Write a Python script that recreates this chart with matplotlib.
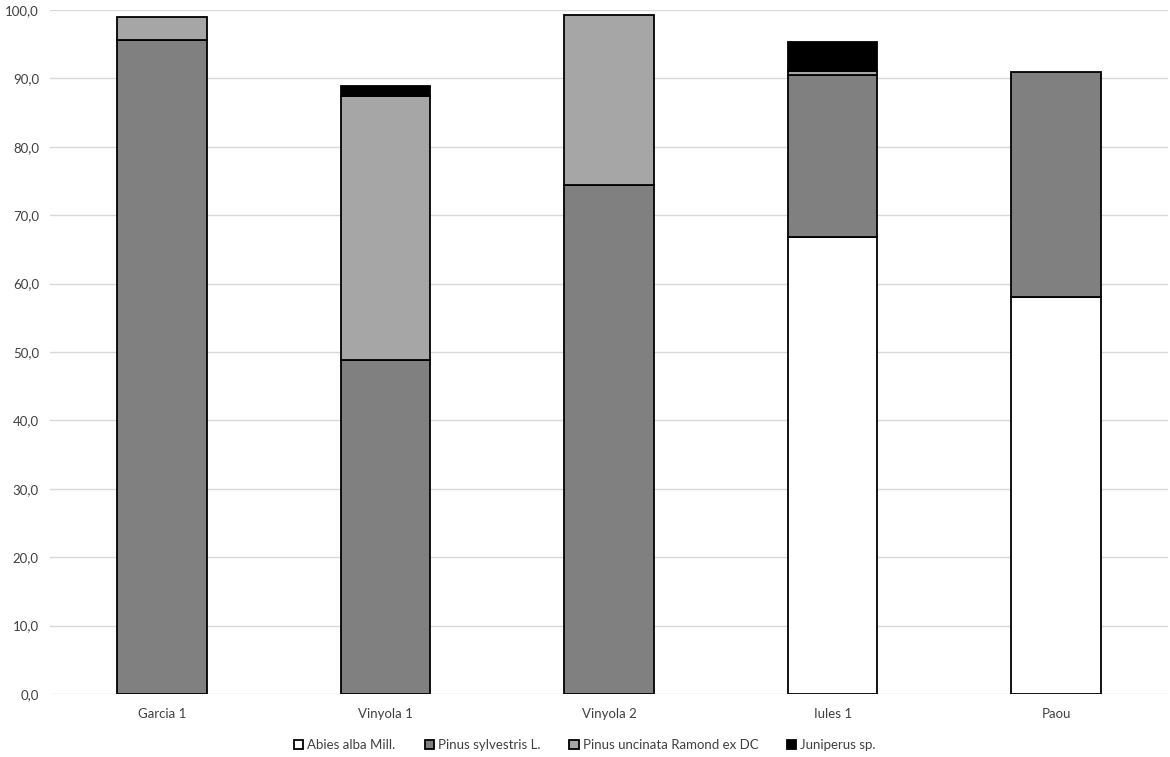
import matplotlib
matplotlib.use("Agg")
import matplotlib.pyplot as plt
import numpy as np

categories = ["Garcia 1", "Vinyola 1", "Vinyola 2", "Iules 1", "Paou"]
abies = [0.0, 0.0, 0.0, 66.8, 58.0]
sylvestris = [95.6, 48.8, 74.4, 23.7, 32.9]
uncinata = [3.4, 38.6, 24.9, 0.6, 0.0]
juniperus = [0.0, 1.5, 0.0, 4.2, 0.0]

series = [
    ("Abies alba Mill.", abies, "#ffffff"),
    ("Pinus sylvestris L.", sylvestris, "#808080"),
    ("Pinus uncinata Ramond ex DC", uncinata, "#a6a6a6"),
    ("Juniperus sp.", juniperus, "#000000"),
]

plt.rcParams['font.family'] = ['Lato', 'DejaVu Sans']

fig = plt.figure(figsize=(11.7, 7.57), dpi=100)
ax = fig.add_axes([50/1170, (757-694)/757, (1168-50)/1170, (694-10)/757])

x = np.arange(len(categories))
bottom = np.zeros(len(categories))
handles = []
for name, vals, col in series:
    vals = np.array(vals)
    mask = vals > 0
    b = ax.bar(x[mask], vals[mask], 0.4, bottom=bottom[mask], color=col,
               edgecolor="black", linewidth=1.3, label=name, zorder=3)
    handles.append(b)
    bottom += vals

ax.set_xlim(-0.5, len(categories) - 0.5)
ax.set_ylim(0, 100)
ax.set_yticks(np.arange(0, 101, 10))
ax.set_yticklabels([f"{v:.1f}".replace(".", ",") for v in np.arange(0, 101, 10)])
ax.set_xticks(x)
ax.set_xticklabels(categories)
ax.grid(axis="y", color="#d9d9d9", linewidth=1.0, zorder=0)
ax.set_axisbelow(True)
for s in ax.spines.values():
    s.set_visible(False)
ax.tick_params(axis="both", length=0, labelsize=9.5, colors="#404040")
ax.tick_params(axis="x", pad=10)
ax.tick_params(axis="y", pad=8)

fig.legend(handles=handles, loc="center", bbox_to_anchor=(0.5, 1 - 745/757),
           ncol=4, frameon=False, fontsize=9.5, handlelength=0.7, handleheight=0.7,
           handletextpad=0.3, columnspacing=2.2, labelcolor="#404040")

fig.savefig("out.png", dpi=100)
